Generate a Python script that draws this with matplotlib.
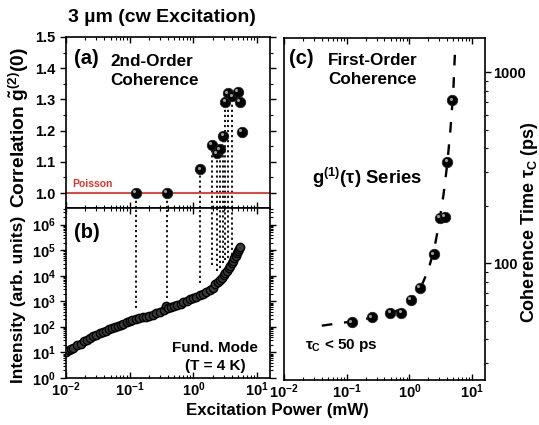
import numpy as np
import matplotlib
matplotlib.use("Agg")
import matplotlib.pyplot as plt
from matplotlib.ticker import LogLocator, LogFormatterMathtext, NullFormatter, FixedLocator, MultipleLocator
from matplotlib.transforms import offset_copy

plt.rcParams["font.family"] = ["Liberation Sans", "DejaVu Sans"]
plt.rcParams["font.weight"] = "bold"
plt.rcParams["mathtext.fontset"] = "custom"
plt.rcParams["mathtext.rm"] = "Liberation Sans:bold"
plt.rcParams["mathtext.it"] = "Liberation Sans:bold"
plt.rcParams["mathtext.bf"] = "Liberation Sans:bold"
plt.rcParams["mathtext.sf"] = "Liberation Sans:bold"

# (a) second-order coherence g2(0) vs power
g2_power = [0.124, 0.38, 1.29, 1.93, 2.32, 2.62, 2.95, 3.2, 3.5, 4.1, 5.0, 5.4, 5.78]
g2_value = [1.0, 1.0, 1.076, 1.154, 1.127, 1.14, 1.183, 1.293, 1.32, 1.31, 1.325, 1.293, 1.196]
# lower end of the dotted guide lines in panel (b)
guide_power = [0.124, 0.38, 1.29, 1.93, 2.32, 2.62, 2.95, 3.2, 3.5, 4.1]
guide_end = [560, 1370, 5300, 27000, 16000, 20000, 32000, 42000, 50000, 66000]

# (b) input-output curve of the fundamental mode
io_power = [0.010, 0.011, 0.012, 0.013, 0.015, 0.017, 0.019, 0.021, 0.024, 0.027,
            0.030, 0.034, 0.038, 0.042, 0.047, 0.052, 0.058, 0.065, 0.072, 0.080,
            0.090, 0.10, 0.11, 0.125, 0.14, 0.16, 0.18, 0.20, 0.23, 0.26,
            0.30, 0.34, 0.37, 0.40, 0.45, 0.50, 0.56, 0.63, 0.70, 0.80,
            0.90, 1.0, 1.1, 1.25, 1.4, 1.6, 1.8, 2.0, 2.2, 2.4,
            2.6, 2.8, 3.0, 3.2, 3.4, 3.6, 3.8, 4.0, 4.2, 4.4,
            4.6, 4.8, 5.0, 5.2, 5.4]
io_intensity = [10.5, 12, 14, 15.5, 19, 22, 27, 31, 37, 43,
                49, 56, 63, 70, 80, 89, 98, 110, 122, 135,
                150, 165, 178, 195, 215, 235, 255, 275, 300, 340,
                380, 470, 640, 560, 600, 650, 720, 820, 930, 1050,
                1200, 1350, 1500, 1700, 1950, 2300, 2800, 3200, 4800, 5800,
                7000, 8500, 10500, 13000, 16000, 20000, 25000, 31000, 39000, 48000,
                60000, 75000, 92000, 110000, 130000]

# (c) coherence time vs power
tau_power = [0.121, 0.249, 0.495, 0.74, 1.06, 1.47, 2.43, 3.02, 3.62, 4.03, 4.83]
tau_value = [49, 52, 54.7, 55, 64, 74, 111, 172, 175, 338, 713]
fit_power = [0.04, 0.1, 0.2, 0.4, 0.7, 1.0, 1.5, 2.0, 2.5, 3.0, 3.5, 4.0, 4.5, 5.0, 5.3]
fit_tau = [47, 49, 51, 53.5, 57, 62, 74, 92, 120, 165, 230, 330, 500, 800, 1250]

W, H = 539, 425
fig = plt.figure(figsize=(W / 100, H / 100), dpi=100)


def px_rect(x0, y0, x1, y1):
    return [x0 / W, 1 - y1 / H, (x1 - x0) / W, (y1 - y0) / H]


def ptext(x, y, s, **kw):
    # text placed by pixel position measured from the top-left corner
    kw.setdefault("va", "center")
    return fig.text(x / W, 1 - y / H, s, **kw)


ax_a = fig.add_axes(px_rect(66, 37, 270, 208))
ax_b = fig.add_axes(px_rect(66, 208, 270, 378))
ax_c = fig.add_axes(px_rect(284, 38, 485, 380))

XLIM = (0.01, 16)


def balls(ax, x, y, ms):
    ax.plot(x, y, "o", ms=ms, mfc="black", mec="#222222", mew=0.6, zorder=4)
    hl = offset_copy(ax.transData, fig=fig, x=-1.2, y=1.2, units="points")
    ax.plot(x, y, "o", ms=ms * 0.3, mfc="#9a9a9a", mec="none", transform=hl, zorder=5)


def style_x(ax, labels):
    ax.set_xscale("log")
    ax.set_xlim(*XLIM)
    ax.xaxis.set_major_locator(LogLocator(base=10, numticks=10))
    ax.xaxis.set_minor_locator(LogLocator(base=10, subs=np.arange(2, 10), numticks=10))
    ax.xaxis.set_minor_formatter(NullFormatter())
    if labels:
        ax.xaxis.set_major_formatter(LogFormatterMathtext())
    else:
        ax.xaxis.set_major_formatter(NullFormatter())
    ax.tick_params(axis="x", which="both", direction="in", top=True, bottom=True,
                   labelsize=10.5, pad=2)
    ax.tick_params(axis="x", which="major", length=4, width=1)
    ax.tick_params(axis="x", which="minor", length=2.5, width=0.8)
    for s in ax.spines.values():
        s.set_linewidth(1.2)


# ---- panel (a)
style_x(ax_a, False)
ax_a.set_ylim(0.952, 1.5)
ax_a.yaxis.set_major_locator(FixedLocator([1.0, 1.1, 1.2, 1.3, 1.4, 1.5]))
ax_a.yaxis.set_minor_locator(MultipleLocator(0.05))
ax_a.yaxis.set_major_formatter(plt.FuncFormatter(lambda v, p: f"{v:.1f}"))
ax_a.tick_params(axis="y", which="both", direction="out", left=True, right=True, labelsize=10.5)
ax_a.tick_params(axis="y", which="major", length=4, width=1)
ax_a.tick_params(axis="y", which="minor", length=2.5, width=0.8)
ax_a.axhline(1.0, color="#e8302a", lw=1.3, zorder=2)
ax_a.vlines(guide_power, 0.952, g2_value[:len(guide_power)], colors="black",
            linestyles=(0, (1.2, 1.6)), lw=1.3, zorder=1)
balls(ax_a, g2_power, g2_value, 7.5)

# ---- panel (b)
style_x(ax_b, True)
ax_b.set_yscale("log")
ax_b.set_ylim(1, 4.5e6)
ax_b.yaxis.set_major_locator(LogLocator(base=10, numticks=12))
ax_b.yaxis.set_minor_locator(LogLocator(base=10, subs=np.arange(2, 10), numticks=12))
ax_b.yaxis.set_major_formatter(LogFormatterMathtext())
ax_b.yaxis.set_minor_formatter(NullFormatter())
ax_b.tick_params(axis="y", which="both", direction="out", left=True, right=True, labelsize=10.5)
ax_b.tick_params(axis="y", which="major", length=4, width=1)
ax_b.tick_params(axis="y", which="minor", length=2.5, width=0.8)
ax_b.vlines(guide_power, guide_end, 4.5e6, colors="black",
            linestyles=(0, (1.2, 1.6)), lw=1.3, zorder=1)
ax_b.plot(io_power, io_intensity, "o", ms=6, mfc="#3a3a3a", mec="black", mew=1.0, zorder=4)

# ---- panel (c)
style_x(ax_c, True)
ax_c.set_yscale("log")
ax_c.set_ylim(24.4, 1510)
ax_c.yaxis.set_major_locator(FixedLocator([100, 1000]))
ax_c.yaxis.set_minor_locator(LogLocator(base=10, subs=np.arange(2, 10), numticks=12))
ax_c.yaxis.set_major_formatter(plt.FuncFormatter(lambda v, p: f"{int(v)}"))
ax_c.yaxis.set_minor_formatter(NullFormatter())
ax_c.yaxis.tick_right()
ax_c.tick_params(axis="y", which="both", direction="out", left=False, right=True,
                 labelsize=10.5, pad=2)
ax_c.tick_params(axis="y", which="major", length=4, width=1)
ax_c.tick_params(axis="y", which="minor", length=2.5, width=0.8)
ax_c.plot(fit_power, fit_tau, color="black", lw=1.7, ls=(0, (4.5, 5)), zorder=2)
balls(ax_c, tau_power, tau_value, 7.5)

# ---- in-panel annotations (pixel positions)
ptext(74, 58, "(a)", fontsize=14.5)
ptext(110, 71, "2nd-Order\nCoherence", fontsize=12.3, linespacing=1.3)
ptext(72, 184, "Poisson", fontsize=7.5, color="#e8302a")
ptext(74, 232, "(b)", fontsize=14.5)
ptext(215, 357, "Fund. Mode\n(T = 4 K)", fontsize=11, ha="center",
      multialignment="center", linespacing=1.3)
ptext(289, 58, "(c)", fontsize=14.5)
ptext(328, 70, "First-Order\nCoherence", fontsize=12.3, linespacing=1.3)
ptext(312, 178, r"g$^{(1)}$($\tau$) Series", fontsize=13.3)
ptext(305, 346, r"$\tau_{\rm C}$ < 50 ps", fontsize=11)

# ---- figure-level labels
ptext(68, 18, "3 \u00b5m (cw Excitation)", fontsize=14)
ptext(277, 410, "Excitation Power (mW)", fontsize=12.2, ha="center")
ptext(19, 128, r"Correlation $\tilde{g}^{(2)}$(0)", fontsize=13.8, rotation=90, ha="center")
ptext(19, 299, "Intensity (arb. units)", fontsize=12.6, rotation=90, ha="center")
ptext(529, 222, r"Coherence Time $\tau_{\rm C}$ (ps)", fontsize=13, rotation=90, ha="center")

fig.savefig("out.png", dpi=100)
